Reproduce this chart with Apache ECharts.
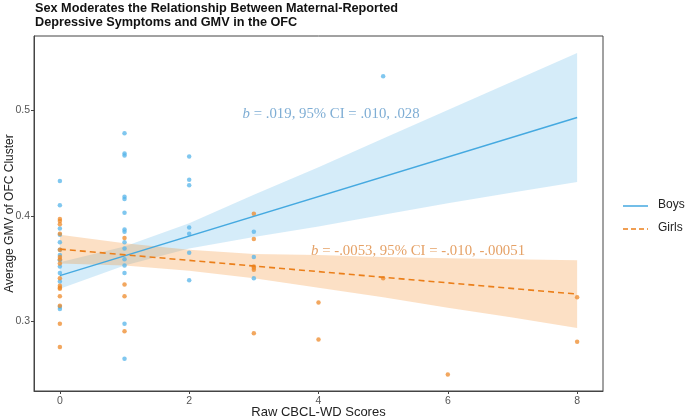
<!DOCTYPE html>
<html>
<head>
<meta charset="utf-8">
<script src="https://cdn.jsdelivr.net/npm/echarts@6/dist/echarts.min.js"></script>
<style>html,body{margin:0;padding:0;background:#fff}#c{width:686px;height:420px}</style>
</head>
<body>
<div id="c"></div>
<script>
// ---- data ----
var xTicks = [0, 2, 4, 6, 8];
var yTicks = [0.3, 0.4, 0.5];

var boysX = [0,0,0,0,0,0,0,0,0,0,0,0,0,
             1,1,1,1,1,1,1,1,1,1,1,1,1,1,1,
             2,2,2,2,2,2,2,
             3,3,3,
             5];
var boysY = [0.433,0.410,0.388,0.382,0.375,0.368,0.363,0.358,0.352,0.346,0.338,0.314,0.312,
             0.478,0.459,0.457,0.418,0.416,0.403,0.387,0.385,0.375,0.369,0.359,0.353,0.346,0.298,0.265,
             0.456,0.434,0.429,0.389,0.383,0.365,0.339,
             0.385,0.361,0.341,
             0.532];

var girlsX = [0,0,0,0,0,0,0,0,0,0,0,0,0,0,0,0,
              1,1,1,1,
              3,3,3,3,3,3,
              4,4,
              5,
              6,
              8,8];
var girlsY = [0.397,0.395,0.392,0.383,0.368,0.361,0.359,0.355,0.341,0.334,0.332,0.331,0.324,0.315,0.298,0.276,
              0.379,0.335,0.324,0.291,
              0.402,0.378,0.352,0.351,0.349,0.289,
              0.318,0.283,
              0.341,
              0.250,
              0.323,0.281];

var fitX = [0, 8];
var boysFit = [0.3435, 0.493];
var girlsFit = [0.3685, 0.326];

var bandX = [0,1,2,3,4,5,6,7,8];
var boysLo = [0.331,0.353,0.369,0.380,0.390,0.401,0.412,0.422,0.432];
var boysHi = [0.356,0.371,0.393,0.420,0.446,0.473,0.500,0.527,0.554];
var girlsLo = [0.355,0.353,0.348,0.341,0.332,0.323,0.313,0.304,0.294];
var girlsHi = [0.382,0.374,0.368,0.364,0.363,0.361,0.360,0.359,0.358];

var titleText = 'Sex Moderates the Relationship Between Maternal-Reported\nDepressive Symptoms and GMV in the OFC';
var boysNote = '{i|b} = .019, 95% CI = .010, .028';
var girlsNote = '{i|b} = -.0053, 95% CI = -.010, -.00051';

// ---- build ----
function zip(a, b) { return a.map(function (v, i) { return [v, b[i]]; }); }
function band(lo, hi) { return bandX.map(function (x, i) { return [x, lo[i], hi[i]]; }); }

var BLUE = '#56B4E9', ORANGE = '#EE8A2A';

function bandSeries(data, color, opacity) {
  return {
    type: 'custom', data: data, clip: true, silent: true, z: 1,
    encode: { x: 0, y: [1, 2] },
    renderItem: function (params, api) {
      if (params.dataIndex !== 0) return null;
      var pts = [];
      data.forEach(function (d) { pts.push(api.coord([d[0], d[1]])); });
      for (var i = data.length - 1; i >= 0; i--) pts.push(api.coord([data[i][0], data[i][2]]));
      return { type: 'polygon', shape: { points: pts }, style: { fill: color, opacity: opacity } };
    }
  };
}

var tickFont = '"Liberation Sans Narrow", "Liberation Sans", Arial, sans-serif';
var serif = '"Liberation Serif", "Times New Roman", serif';

var chart = echarts.init(document.getElementById('c'));
chart.setOption({
  animation: false,
  backgroundColor: '#fff',
  title: {
    text: titleText, left: 30, top: -4,
    textStyle: { fontFamily: '"Liberation Sans", Arial, sans-serif', fontWeight: 'bold', fontSize: 12.7, lineHeight: 14.5, color: '#111' }
  },
  grid: { left: 34, top: 36, right: 83, bottom: 29, containLabel: false, outerBoundsMode: 'none',
    show: true, borderColor: '#444', borderWidth: 1, backgroundColor: 'transparent' },
  xAxis: {
    type: 'value', min: -0.4, max: 8.4,
    name: 'Raw CBCL-WD Scores', nameLocation: 'middle', nameGap: 15, nameMoveOverlap: false,
    nameTextStyle: { fontFamily: tickFont, fontSize: 13, color: '#222' },
    axisLine: { show: true, onZero: false, lineStyle: { color: '#444', width: 1 } },
    axisTick: { show: true, length: 3, customValues: xTicks, lineStyle: { color: '#444' } },
    axisLabel: { customValues: xTicks, fontFamily: tickFont, fontSize: 10.5, color: '#555', margin: 5 },
    splitLine: { show: false }
  },
  yAxis: {
    type: 'value', min: 0.2344, max: 0.570,
    name: 'Average GMV of OFC Cluster', nameLocation: 'middle', nameGap: 18, nameMoveOverlap: false,
    nameTextStyle: { fontFamily: '"Liberation Sans", Arial, sans-serif', fontSize: 12, color: '#222' },
    axisLine: { show: true, onZero: false, lineStyle: { color: '#444', width: 1 } },
    axisTick: { show: true, length: 3, customValues: yTicks, lineStyle: { color: '#444' } },
    axisLabel: { customValues: yTicks, fontFamily: tickFont, fontSize: 10.5, color: '#555', margin: 4,
      formatter: function (v) { return v.toFixed(1); } },
    splitLine: { show: false }
  },
  series: [
    bandSeries(band(boysLo, boysHi), BLUE, 0.25),
    bandSeries(band(girlsLo, girlsHi), '#F58C28', 0.27),
    { type: 'scatter', name: 'Boys', data: zip(boysX, boysY), symbolSize: 4.5, z: 3,
      itemStyle: { color: BLUE, opacity: 0.75 } },
    { type: 'scatter', name: 'Girls', data: zip(girlsX, girlsY), symbolSize: 4.5, z: 3,
      itemStyle: { color: ORANGE, opacity: 0.75 } },
    { type: 'line', name: 'Boys', data: zip(fitX, boysFit), showSymbol: false, z: 4,
      lineStyle: { color: '#45A9E0', width: 1.5 } },
    { type: 'line', name: 'Girls', data: zip(fitX, girlsFit), showSymbol: false, z: 4,
      lineStyle: { color: '#EB7F1A', width: 1.6, type: [6, 4] } },
    { type: 'scatter', data: [[4.195, 0.496]], symbolSize: 0, silent: true, z: 5,
      label: { show: true, position: 'inside', formatter: boysNote,
        fontFamily: serif, fontSize: 14.8, color: '#5E98C9',
        rich: { i: { fontStyle: 'italic', fontFamily: serif, fontSize: 14.8, color: '#5E98C9' } } } },
    { type: 'scatter', data: [[5.54, 0.3665]], symbolSize: 0, silent: true, z: 5,
      label: { show: true, position: 'inside', formatter: girlsNote,
        fontFamily: serif, fontSize: 14.8, color: '#DE8940',
        rich: { i: { fontStyle: 'italic', fontFamily: serif, fontSize: 14.8, color: '#DE8940' } } } }
  ],
  graphic: [
    { type: 'line', shape: { x1: 623, y1: 206, x2: 648, y2: 206 }, style: { stroke: '#45A9E0', lineWidth: 1.5 } },
    { type: 'text', left: 658, top: 199, style: { text: 'Boys', font: '12px "Liberation Sans", Arial, sans-serif', fill: '#222' } },
    { type: 'line', shape: { x1: 623, y1: 229, x2: 648, y2: 229 }, style: { stroke: '#EB7F1A', lineWidth: 1.6, lineDash: [5, 3] } },
    { type: 'text', left: 658, top: 222, style: { text: 'Girls', font: '12px "Liberation Sans", Arial, sans-serif', fill: '#222' } }
  ]
});
</script>
</body>
</html>
